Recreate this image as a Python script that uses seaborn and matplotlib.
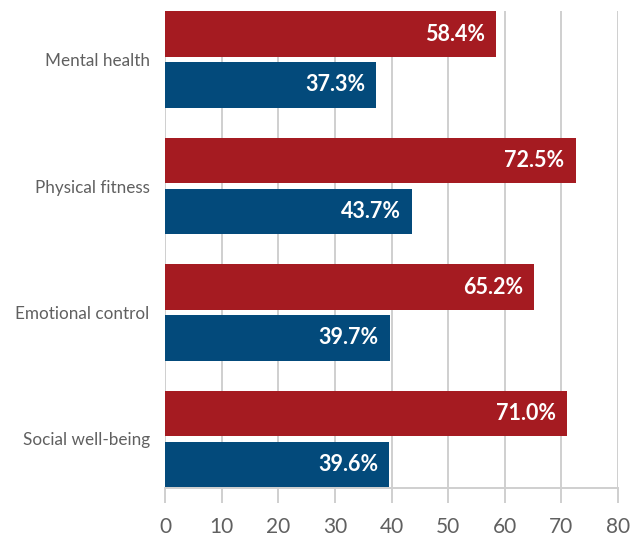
import matplotlib
matplotlib.use("Agg")
import matplotlib.pyplot as plt
import seaborn as sns
import pandas as pd

# Survey results: share of respondents reporting a benefit, by area
categories = ["Mental health", "Physical fitness", "Emotional control", "Social well-being"]
group_a = [58.4, 72.5, 65.2, 71.0]
group_b = [37.3, 43.7, 39.7, 39.6]
series_names = ["Group A", "Group B"]
series_colors = ["#A51B21", "#034A7B"]
x_ticks = [0, 10, 20, 30, 40, 50, 60, 70, 80]

df = pd.DataFrame({
    "area": categories * 2,
    "pct": group_a + group_b,
    "series": [series_names[0]] * len(categories) + [series_names[1]] * len(categories),
})

sns.set_theme(style="white")
plt.rcParams["font.family"] = ["Lato", "DejaVu Sans"]

fig = plt.figure(figsize=(6.39, 5.40), dpi=100)
ax = fig.add_axes([165 / 639, 1 - 487.5 / 540, (618 - 165) / 639, (487.5 - 11) / 540])

sns.barplot(
    data=df, y="area", x="pct", hue="series", orient="h",
    palette=series_colors, width=0.806, gap=0.1, saturation=1,
    linewidth=0, legend=False, ax=ax,
)

for container in ax.containers:
    labels = ax.bar_label(container, fmt="%.1f%%", padding=-8,
                          color="white", fontsize=15.5, fontweight="bold")
    for t in labels:
        t.set_ha("right")

ax.set_xlim(0, 80)
ax.set_ylim(3.3835, -0.3835)
ax.set_xticks(x_ticks)
ax.set_xticklabels([str(v) for v in x_ticks])
ax.set_xlabel("")
ax.set_ylabel("")

grid_col = "#CFCFCF"
ax.set_axisbelow(True)
ax.grid(axis="x", color=grid_col, linewidth=1.4)
ax.grid(axis="y", visible=False)
for side in ["top", "right", "left"]:
    ax.spines[side].set_visible(False)
ax.spines["bottom"].set_color(grid_col)
ax.spines["bottom"].set_linewidth(1.4)

ax.tick_params(axis="x", direction="out", length=11, width=1.4, color=grid_col,
               labelsize=15, labelcolor="#606060", pad=10, bottom=True)
ax.tick_params(axis="y", length=0, labelsize=12.3, labelcolor="#606060", pad=11)

fig.savefig("out.png", dpi=100)
